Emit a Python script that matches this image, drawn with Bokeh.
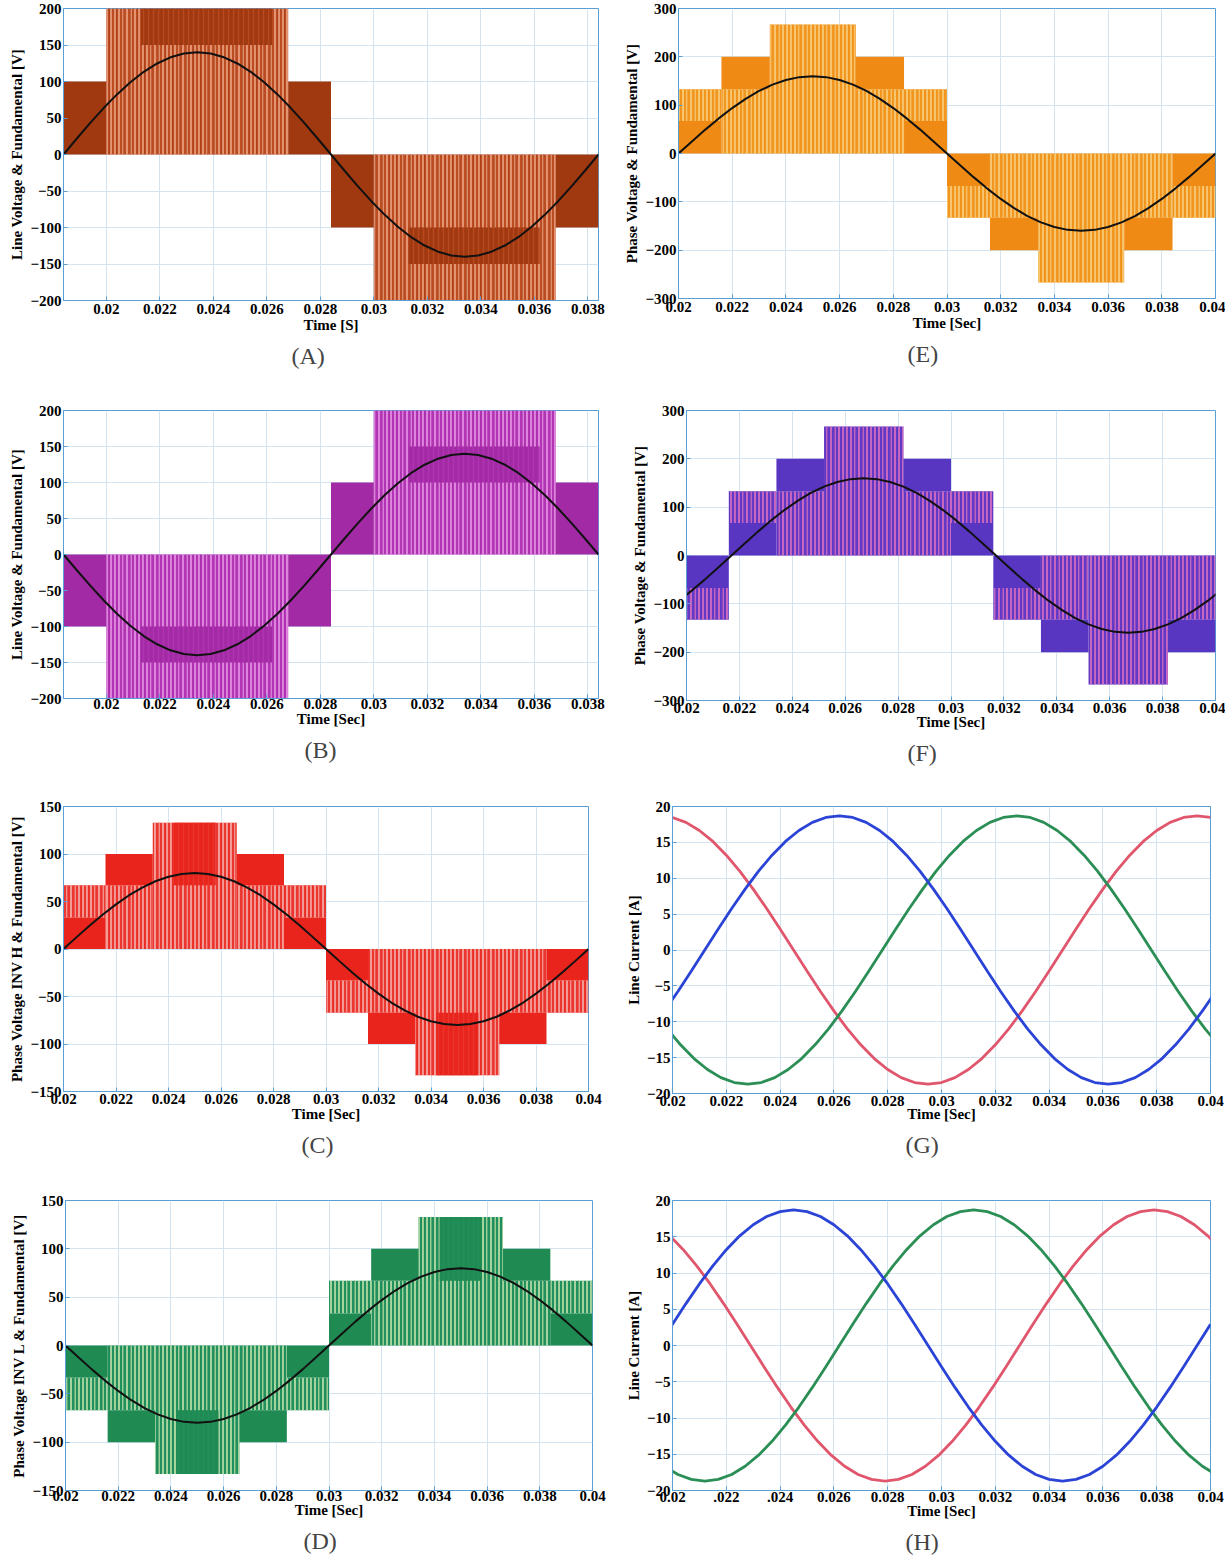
from bokeh.plotting import figure
from bokeh.layouts import column, row
from bokeh.models import Range1d, FixedTicker, ColumnDataSource
from bokeh.embed import file_html
from bokeh.resources import INLINE

# ---------------- tick data ----------------
X_TICKS_A = [0.02, 0.022, 0.024, 0.026, 0.028, 0.03, 0.032, 0.034, 0.036, 0.038]
X_LABELS_A = ["0.02", "0.022", "0.024", "0.026", "0.028", "0.03", "0.032", "0.034", "0.036", "0.038"]
X_TICKS = [0.02, 0.022, 0.024, 0.026, 0.028, 0.03, 0.032, 0.034, 0.036, 0.038, 0.04]
X_LABELS = ["0.02", "0.022", "0.024", "0.026", "0.028", "0.03", "0.032", "0.034", "0.036", "0.038", "0.04"]
X_LABELS_H = ["0.02", ".022", ".024", "0.026", "0.028", "0.03", "0.032", "0.034", "0.036", "0.038", "0.04"]
Y_TICKS_200 = [-200, -150, -100, -50, 0, 50, 100, 150, 200]
Y_TICKS_300 = [-300, -200, -100, 0, 100, 200, 300]
Y_TICKS_150 = [-150, -100, -50, 0, 50, 100, 150]
Y_TICKS_20 = [-20, -15, -10, -5, 0, 5, 10, 15, 20]

# ---------------- sample times of the curves (read every 0.5 ms) ----------------
T_84 = [0.0184, 0.0189, 0.0194, 0.0199, 0.0204, 0.0209, 0.0214, 0.0219, 0.0224, 0.0229, 0.0234,
        0.0239, 0.0244, 0.0249, 0.0254, 0.0259, 0.0264, 0.0269, 0.0274, 0.0279, 0.0284,
        0.0289, 0.0294, 0.0299, 0.0304, 0.0309, 0.0314, 0.0319, 0.0324, 0.0329, 0.0334,
        0.0339, 0.0344, 0.0349, 0.0354, 0.0359, 0.0364, 0.0369, 0.0374, 0.0379, 0.0384]
T_00 = [0.0200, 0.0205, 0.0210, 0.0215, 0.0220, 0.0225, 0.0230, 0.0235, 0.0240, 0.0245, 0.0250,
        0.0255, 0.0260, 0.0265, 0.0270, 0.0275, 0.0280, 0.0285, 0.0290, 0.0295, 0.0300,
        0.0305, 0.0310, 0.0315, 0.0320, 0.0325, 0.0330, 0.0335, 0.0340, 0.0345, 0.0350,
        0.0355, 0.0360, 0.0365, 0.0370, 0.0375, 0.0380, 0.0385, 0.0390, 0.0395, 0.0400]
T_95 = [0.0195, 0.0200, 0.0205, 0.0210, 0.0215, 0.0220, 0.0225, 0.0230, 0.0235, 0.0240, 0.0245,
        0.0250, 0.0255, 0.0260, 0.0265, 0.0270, 0.0275, 0.0280, 0.0285, 0.0290, 0.0295,
        0.0300, 0.0305, 0.0310, 0.0315, 0.0320, 0.0325, 0.0330, 0.0335, 0.0340, 0.0345,
        0.0350, 0.0355, 0.0360, 0.0365, 0.0370, 0.0375, 0.0380, 0.0385, 0.0390, 0.0395, 0.0400]
T_97 = [0.0197, 0.0202, 0.0207, 0.0212, 0.0217, 0.0222, 0.0227, 0.0232, 0.0237, 0.0242, 0.0247,
        0.0252, 0.0257, 0.0262, 0.0267, 0.0272, 0.0277, 0.0282, 0.0287, 0.0292, 0.0297,
        0.0302, 0.0307, 0.0312, 0.0317, 0.0322, 0.0327, 0.0332, 0.0337, 0.0342, 0.0347,
        0.0352, 0.0357, 0.0362, 0.0367, 0.0372, 0.0377, 0.0382, 0.0387, 0.0392, 0.0397, 0.0402]
T_98 = [0.0198, 0.0203, 0.0208, 0.0213, 0.0218, 0.0223, 0.0228, 0.0233, 0.0238, 0.0243, 0.0248,
        0.0253, 0.0258, 0.0263, 0.0268, 0.0273, 0.0278, 0.0283, 0.0288, 0.0293, 0.0298,
        0.0303, 0.0308, 0.0313, 0.0318, 0.0323, 0.0328, 0.0333, 0.0338, 0.0343, 0.0348,
        0.0353, 0.0358, 0.0363, 0.0368, 0.0373, 0.0378, 0.0383, 0.0388, 0.0393, 0.0398, 0.0403]
T_99 = [0.0199, 0.0204, 0.0209, 0.0214, 0.0219, 0.0224, 0.0229, 0.0234, 0.0239, 0.0244, 0.0249,
        0.0254, 0.0259, 0.0264, 0.0269, 0.0274, 0.0279, 0.0284, 0.0289, 0.0294, 0.0299,
        0.0304, 0.0309, 0.0314, 0.0319, 0.0324, 0.0329, 0.0334, 0.0339, 0.0344, 0.0349,
        0.0354, 0.0359, 0.0364, 0.0369, 0.0374, 0.0379, 0.0384, 0.0389, 0.0394, 0.0399, 0.0404]

# ---------------- (A) line voltage ----------------
A_t0 = [0.0184, 0.0200, 0.0213, 0.0268, 0.0284, 0.0300, 0.0313, 0.0368]
A_t1 = [0.0200, 0.0268, 0.0262, 0.0284, 0.0300, 0.0368, 0.0362, 0.0384]
A_lo = [0, 0, 150, 0, -100, -200, -150, -100]
A_hi = [100, 200, 200, 100, 0, 0, -100, 0]
A_kind = ["solid", "pwm", "dense", "solid", "solid", "pwm", "dense", "solid"]
A_fund = [0, 21.9, 43.3, 63.6, 82.3, 99.0, 113.3, 124.7, 133.1, 138.3, 140, 138.3, 133.1, 124.7,
          113.3, 99.0, 82.3, 63.6, 43.3, 21.9, 0, -21.9, -43.3, -63.6, -82.3, -99.0, -113.3,
          -124.7, -133.1, -138.3, -140, -138.3, -133.1, -124.7, -113.3, -99.0, -82.3, -63.6,
          -43.3, -21.9, 0]

# ---------------- (B) line voltage ----------------
B_t0 = [0.0184, 0.0200, 0.0213, 0.0268, 0.0284, 0.0300, 0.0313, 0.0368]
B_t1 = [0.0200, 0.0268, 0.0262, 0.0284, 0.0300, 0.0368, 0.0362, 0.0384]
B_lo = [-100, -200, -150, -100, 0, 0, 100, 0]
B_hi = [0, 0, -100, 0, 100, 200, 150, 100]
B_kind = ["solid", "pwm", "dense", "solid", "solid", "pwm", "dense", "solid"]
B_fund = [0, -21.9, -43.3, -63.6, -82.3, -99.0, -113.3, -124.7, -133.1, -138.3, -140, -138.3,
          -133.1, -124.7, -113.3, -99.0, -82.3, -63.6, -43.3, -21.9, 0, 21.9, 43.3, 63.6, 82.3,
          99.0, 113.3, 124.7, 133.1, 138.3, 140, 138.3, 133.1, 124.7, 113.3, 99.0, 82.3, 63.6,
          43.3, 21.9, 0]

# ---------------- (C) phase voltage INV H ----------------
C_t0 = [0.0200, 0.0200, 0.0216, 0.0216, 0.0234, 0.0242, 0.0266, 0.0266, 0.0284, 0.0284,
        0.0300, 0.0300, 0.0316, 0.0316, 0.0334, 0.0342, 0.0366, 0.0366, 0.0384, 0.0384]
C_t1 = [0.0216, 0.0216, 0.0234, 0.0234, 0.0266, 0.0258, 0.0284, 0.0284, 0.0300, 0.0300,
        0.0316, 0.0316, 0.0334, 0.0334, 0.0366, 0.0358, 0.0384, 0.0384, 0.0400, 0.0400]
C_lo = [0, 33, 0, 67, 0, 67, 0, 67, 0, 33, -33, -67, -67, -100, -133, -133, -67, -100, -33, -67]
C_hi = [33, 67, 67, 100, 133, 133, 67, 100, 33, 67, 0, -33, 0, -67, 0, -67, 0, -67, 0, -33]
C_kind = ["solid", "pwm", "pwm", "solid", "pwm", "dense", "pwm", "solid", "solid", "pwm",
          "solid", "pwm", "pwm", "solid", "pwm", "dense", "pwm", "solid", "solid", "pwm"]
C_fund = [0, 12.5, 24.7, 36.3, 47.0, 56.6, 64.7, 71.3, 76.1, 79.0, 80, 79.0, 76.1, 71.3, 64.7,
          56.6, 47.0, 36.3, 24.7, 12.5, 0, -12.5, -24.7, -36.3, -47.0, -56.6, -64.7, -71.3,
          -76.1, -79.0, -80, -79.0, -76.1, -71.3, -64.7, -56.6, -47.0, -36.3, -24.7, -12.5, 0]

# ---------------- (D) phase voltage INV L ----------------
D_t0 = [0.0200, 0.0200, 0.0216, 0.0216, 0.0234, 0.0242, 0.0266, 0.0266, 0.0284, 0.0284,
        0.0300, 0.0300, 0.0316, 0.0316, 0.0334, 0.0342, 0.0366, 0.0366, 0.0384, 0.0384]
D_t1 = [0.0216, 0.0216, 0.0234, 0.0234, 0.0266, 0.0258, 0.0284, 0.0284, 0.0300, 0.0300,
        0.0316, 0.0316, 0.0334, 0.0334, 0.0366, 0.0358, 0.0384, 0.0384, 0.0400, 0.0400]
D_lo = [-33, -67, -67, -100, -133, -133, -67, -100, -33, -67, 0, 33, 0, 67, 0, 67, 0, 67, 0, 33]
D_hi = [0, -33, 0, -67, 0, -67, 0, -67, 0, -33, 33, 67, 67, 100, 133, 133, 67, 100, 33, 67]
D_kind = ["solid", "pwm", "pwm", "solid", "pwm", "dense", "pwm", "solid", "solid", "pwm",
          "solid", "pwm", "pwm", "solid", "pwm", "dense", "pwm", "solid", "solid", "pwm"]
D_fund = [0, -12.5, -24.7, -36.3, -47.0, -56.6, -64.7, -71.3, -76.1, -79.0, -80, -79.0, -76.1,
          -71.3, -64.7, -56.6, -47.0, -36.3, -24.7, -12.5, 0, 12.5, 24.7, 36.3, 47.0, 56.6, 64.7,
          71.3, 76.1, 79.0, 80, 79.0, 76.1, 71.3, 64.7, 56.6, 47.0, 36.3, 24.7, 12.5, 0]

# ---------------- (E) phase voltage ----------------
E_t0 = [0.0200, 0.0200, 0.0216, 0.0216, 0.0234, 0.0266, 0.0266, 0.0284, 0.0284,
        0.0300, 0.0300, 0.0316, 0.0316, 0.0334, 0.0366, 0.0366, 0.0384, 0.0384]
E_t1 = [0.0216, 0.0216, 0.0234, 0.0234, 0.0266, 0.0284, 0.0284, 0.0300, 0.0300,
        0.0316, 0.0316, 0.0334, 0.0334, 0.0366, 0.0384, 0.0384, 0.0400, 0.0400]
E_lo = [0, 67, 0, 133, 0, 0, 133, 0, 67, -67, -133, -133, -200, -267, -133, -200, -67, -133]
E_hi = [67, 133, 133, 200, 267, 133, 200, 67, 133, 0, -67, 0, -133, 0, 0, -133, 0, -67]
E_kind = ["solid", "pwm", "pwm", "solid", "pwm", "pwm", "solid", "solid", "pwm",
          "solid", "pwm", "pwm", "solid", "pwm", "pwm", "solid", "solid", "pwm"]
E_fund = [0, 25.0, 49.4, 72.6, 94.0, 113.1, 129.4, 142.6, 152.2, 158.0, 160, 158.0, 152.2, 142.6,
          129.4, 113.1, 94.0, 72.6, 49.4, 25.0, 0, -25.0, -49.4, -72.6, -94.0, -113.1, -129.4,
          -142.6, -152.2, -158.0, -160, -158.0, -152.2, -142.6, -129.4, -113.1, -94.0, -72.6,
          -49.4, -25.0, 0]

# ---------------- (F) phase voltage ----------------
F_t0 = [0.0200, 0.0200, 0.0216, 0.0216, 0.0234, 0.0234, 0.0252, 0.0282, 0.0282,
        0.0300, 0.0300, 0.0316, 0.0316, 0.0334, 0.0334, 0.0352, 0.0382, 0.0382]
F_t1 = [0.0216, 0.0216, 0.0234, 0.0234, 0.0252, 0.0252, 0.0282, 0.0300, 0.0300,
        0.0316, 0.0316, 0.0334, 0.0334, 0.0352, 0.0352, 0.0382, 0.0400, 0.0400]
F_lo = [-67, -133, 0, 67, 0, 133, 0, 0, 133, 0, 67, -67, -133, -133, -200, -267, -133, -200]
F_hi = [0, -67, 67, 133, 133, 200, 267, 133, 200, 67, 133, 0, -67, 0, -133, 0, 0, -133]
F_kind = ["solid", "pwm", "solid", "pwm", "pwm", "solid", "pwm", "pwm", "solid",
          "solid", "pwm", "solid", "pwm", "pwm", "solid", "pwm", "pwm", "solid"]
F_fund = [-94.0, -72.6, -49.4, -25.0, 0, 25.0, 49.4, 72.6, 94.0, 113.1, 129.4, 142.6, 152.2,
          158.0, 160, 158.0, 152.2, 142.6, 129.4, 113.1, 94.0, 72.6, 49.4, 25.0, 0, -25.0, -49.4,
          -72.6, -94.0, -113.1, -129.4, -142.6, -152.2, -158.0, -160, -158.0, -152.2, -142.6,
          -129.4, -113.1, -94.0, -72.6]

# ---------------- (G) line currents ----------------
G_blue = [-8.49, -5.78, -2.92, 0, 2.92, 5.78, 8.49, 10.99, 13.22, 15.13, 16.66, 17.79, 18.47,
          18.7, 18.47, 17.79, 16.66, 15.13, 13.22, 10.99, 8.49, 5.78, 2.92, 0, -2.92, -5.78,
          -8.49, -10.99, -13.22, -15.13, -16.66, -17.79, -18.47, -18.7, -18.47, -17.79, -16.66,
          -15.13, -13.22, -10.99, -8.49, -5.78]  # at T_97
G_green = [-10.99, -13.22, -15.13, -16.66, -17.79, -18.47, -18.7, -18.47, -17.79, -16.66,
           -15.13, -13.22, -10.99, -8.49, -5.78, -2.92, 0, 2.92, 5.78, 8.49, 10.99, 13.22,
           15.13, 16.66, 17.79, 18.47, 18.7, 18.47, 17.79, 16.66, 15.13, 13.22, 10.99, 8.49,
           5.78, 2.92, 0, -2.92, -5.78, -8.49, -10.99, -13.22]  # at T_98
G_red = [18.7, 18.47, 17.79, 16.66, 15.13, 13.22, 10.99, 8.49, 5.78, 2.92, 0, -2.92, -5.78,
         -8.49, -10.99, -13.22, -15.13, -16.66, -17.79, -18.47, -18.7, -18.47, -17.79, -16.66,
         -15.13, -13.22, -10.99, -8.49, -5.78, -2.92, 0, 2.92, 5.78, 8.49, 10.99, 13.22, 15.13,
         16.66, 17.79, 18.47, 18.7, 18.47]  # at T_95

# ---------------- (H) line currents ----------------
H_blue = [0, 2.92, 5.78, 8.49, 10.99, 13.22, 15.13, 16.66, 17.79, 18.47, 18.7, 18.47, 17.79,
          16.66, 15.13, 13.22, 10.99, 8.49, 5.78, 2.92, 0, -2.92, -5.78, -8.49, -10.99, -13.22,
          -15.13, -16.66, -17.79, -18.47, -18.7, -18.47, -17.79, -16.66, -15.13, -13.22, -10.99,
          -8.49, -5.78, -2.92, 0, 2.92]  # at T_95
H_green = [-16.66, -17.79, -18.47, -18.7, -18.47, -17.79, -16.66, -15.13, -13.22, -10.99, -8.49,
           -5.78, -2.92, 0, 2.92, 5.78, 8.49, 10.99, 13.22, 15.13, 16.66, 17.79, 18.47, 18.7,
           18.47, 17.79, 16.66, 15.13, 13.22, 10.99, 8.49, 5.78, 2.92, 0, -2.92, -5.78, -8.49,
           -10.99, -13.22, -15.13, -16.66, -17.79]  # at T_97
H_red = [15.13, 13.22, 10.99, 8.49, 5.78, 2.92, 0, -2.92, -5.78, -8.49, -10.99, -13.22, -15.13,
         -16.66, -17.79, -18.47, -18.7, -18.47, -17.79, -16.66, -15.13, -13.22, -10.99, -8.49,
         -5.78, -2.92, 0, 2.92, 5.78, 8.49, 10.99, 13.22, 15.13, 16.66, 17.79, 18.47, 18.7,
         18.47, 17.79, 16.66, 15.13, 13.22]  # at T_99

# ---------------- styling ----------------
SERIF = "Liberation Serif"
BLUE = "#5a9fd4"
GRID = "#d3e3f0"
PAL = {
    "A": dict(dark="#a03810", mid="#bc4c22", light="#f2a888"),
    "B": dict(dark="#a32aa5", mid="#b235b4", light="#ec9cea"),
    "C": dict(dark="#e8241c", mid="#ea3830", light="#f8b8b4"),
    "D": dict(dark="#1f8a52", mid="#21905f", light="#cfe8b0"),
    "E": dict(dark="#ef8a14", mid="#f1961f", light="#f9d486"),
    "F": dict(dark="#5836c2", mid="#6238c4", light="#e676c0"),
}
RED, GREEN, BLUE_C = "#e0566c", "#2b8f55", "#2b44d6"


def make_panel(x_range, y_range, xticks, xlabels, yticks, ylabel, xlabel, caption, geom):
    bl, fw, br, bt, fh, bb, cap_x, tick_so, lab_so = geom
    p = figure(frame_width=fw, frame_height=fh, min_border_left=bl, min_border_right=br,
               min_border_top=bt, min_border_bottom=bb,
               x_range=Range1d(*x_range), y_range=Range1d(*y_range),
               output_backend="svg", toolbar_location=None,
               title=caption, title_location="below")
    p.background_fill_color = "white"
    p.border_fill_color = "white"
    p.outline_line_color = BLUE
    p.outline_line_width = 1
    xt = FixedTicker(ticks=xticks)
    yt = FixedTicker(ticks=yticks)
    p.xaxis.ticker = xt
    p.yaxis.ticker = yt
    p.xgrid.ticker = xt
    p.ygrid.ticker = yt
    p.xaxis.major_label_overrides = {t: l for t, l in zip(xticks, xlabels)}
    for ax in (p.xaxis[0], p.yaxis[0]):
        ax.axis_line_color = BLUE
        ax.major_tick_line_color = BLUE
        ax.major_tick_in = 4
        ax.major_tick_out = 0
        ax.minor_tick_line_color = None
        ax.major_label_text_font = SERIF
        ax.major_label_text_font_style = "bold"
        ax.major_label_text_font_size = "15px"
        ax.major_label_text_color = "black"
        ax.axis_label_text_font = SERIF
        ax.axis_label_text_font_style = "bold"
        ax.axis_label_text_color = "black"
    p.xaxis.axis_label_text_font_size = "15px"
    p.yaxis.axis_label_text_font_size = "15px"
    p.xaxis.axis_label = xlabel
    p.yaxis.axis_label = ylabel
    p.xaxis.major_label_standoff = tick_so
    p.xaxis.axis_label_standoff = lab_so
    p.yaxis.major_label_standoff = 2
    p.yaxis.axis_label_standoff = 2
    p.grid.grid_line_color = GRID
    p.title.align = "left"
    p.title.offset = cap_x
    p.title.text_font = SERIF
    p.title.text_font_style = "normal"
    p.title.text_font_size = "24px"
    return p


def draw_bands(p, t0, t1, lo, hi, kind, pal):
    styles = [
        ("pwm", dict(fill_color=pal["mid"], line_color=None, hatch_pattern="vertical_line",
                     hatch_color=pal["light"], hatch_scale=4, hatch_weight=1.7, hatch_alpha=0.9)),
        ("dense", dict(fill_color=pal["dark"], line_color=None, hatch_pattern="vertical_line",
                       hatch_color=pal["mid"], hatch_scale=5, hatch_weight=1.4, hatch_alpha=0.85)),
        ("solid", dict(fill_color=pal["dark"], line_color=None)),
    ]
    for k, st in styles:
        idx = [i for i, s in enumerate(kind) if s == k]
        if not idx:
            continue
        src = ColumnDataSource(dict(left=[t0[i] for i in idx], right=[t1[i] for i in idx],
                                    bottom=[lo[i] for i in idx], top=[hi[i] for i in idx]))
        p.quad(left="left", right="right", bottom="bottom", top="top", source=src, **st)
        if k == "pwm":
            # second, coarser stripe layer gives the irregular switching texture
            p.quad(left="left", right="right", bottom="bottom", top="top", source=src,
                   fill_alpha=0, line_color=None, hatch_pattern="vertical_line",
                   hatch_color=pal["dark"], hatch_scale=7, hatch_weight=1.3, hatch_alpha=0.55)


def voltage_panel(key, t0, t1, lo, hi, kind, ft, fv, x_range, xticks, xlabels, y_range, yticks,
                  ylabel, xlabel, geom):
    p = make_panel(x_range, y_range, xticks, xlabels, yticks, ylabel, xlabel, "(%s)" % key, geom)
    draw_bands(p, t0, t1, lo, hi, kind, PAL[key])
    p.line(ft, fv, line_color="#111111", line_width=2)
    return p


def current_panel(key, curves, xlabels, geom):
    p = make_panel((0.02, 0.04), (-20, 20), X_TICKS, xlabels, Y_TICKS_20, "Line Current [A]",
                   "Time [Sec]", "(%s)" % key, geom)
    for t, v, c in curves:
        p.line(t, v, line_color=c, line_width=2.8)
    return p


LV = "Line Voltage & Fundamental [V]"
PV = "Phase Voltage & Fundamental [V]"

# geometry: border_left, frame_w, border_right, border_top, frame_h, border_bottom,
#           caption x, tick-label standoff, axis-label standoff
pA = voltage_panel("A", A_t0, A_t1, A_lo, A_hi, A_kind, T_84, A_fund, (0.0184, 0.0384),
                   X_TICKS_A, X_LABELS_A, (-200, 200), Y_TICKS_200, LV, "Time [S]",
                   (63, 535, 22, 8, 292, 98, 228, 3, 0))
pE = voltage_panel("E", E_t0, E_t1, E_lo, E_hi, E_kind, T_00, E_fund, (0.02, 0.04),
                   X_TICKS, X_LABELS, (-300, 300), Y_TICKS_300, PV, "Time [Sec]",
                   (58, 537, 10, 8, 290, 100, 229, 3, 0))
pB = voltage_panel("B", B_t0, B_t1, B_lo, B_hi, B_kind, T_84, B_fund, (0.0184, 0.0384),
                   X_TICKS_A, X_LABELS_A, (-200, 200), Y_TICKS_200, LV, "Time [Sec]",
                   (63, 535, 22, 12, 288, 95, 241, 0, -1))
pF = voltage_panel("F", F_t0, F_t1, F_lo, F_hi, F_kind, T_97, F_fund, (0.02, 0.04),
                   X_TICKS, X_LABELS, (-300, 300), Y_TICKS_300, PV, "Time [Sec]",
                   (66, 529, 10, 10, 290, 95, 221, 2, -2))
pC = voltage_panel("C", C_t0, C_t1, C_lo, C_hi, C_kind, T_00, C_fund, (0.02, 0.04),
                   X_TICKS, X_LABELS, (-150, 150), Y_TICKS_150,
                   "Phase Voltage INV H & Fundamental [V]", "Time [Sec]",
                   (63, 525, 32, 12, 285, 96, 238, 2, -1))
pG = current_panel("G", [(T_95, G_red, RED), (T_98, G_green, GREEN), (T_97, G_blue, BLUE_C)],
                   X_LABELS, (52, 538, 15, 13, 287, 93, 233, 2, -3))
pD = voltage_panel("D", D_t0, D_t1, D_lo, D_hi, D_kind, T_00, D_fund, (0.02, 0.04),
                   X_TICKS, X_LABELS, (-150, 150), Y_TICKS_150,
                   "Phase Voltage INV L & Fundamental [V]", "Time [Sec]",
                   (65, 527, 28, 14, 290, 60, 238, 0, -2))
pH = current_panel("H", [(T_99, H_red, RED), (T_97, H_green, GREEN), (T_95, H_blue, BLUE_C)],
                   X_LABELS_H, (52, 538, 15, 14, 290, 60, 233, 1, -2))

layout = column(row(pA, pE), row(pB, pF), row(pC, pG), row(pD, pH))

with open("out.html", "w") as f:
    f.write(file_html(layout, INLINE))
